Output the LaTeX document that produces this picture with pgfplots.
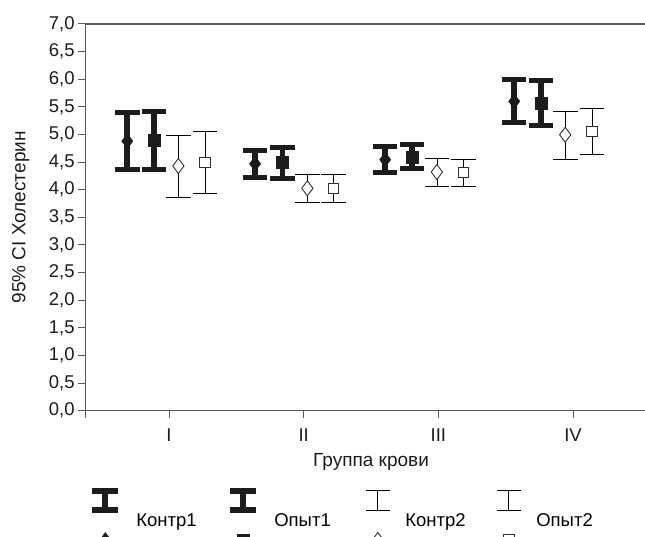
\documentclass[border=0pt]{standalone}
\usepackage{pgfplots}
\pgfplotsset{compat=1.18}
\usepackage{fontspec}
\setmainfont{Liberation Sans}
\usetikzlibrary{calc}
\definecolor{axgray}{HTML}{595959}
\definecolor{ink}{HTML}{1C1C1C}
\definecolor{thin}{HTML}{2E2E2E}

\begin{document}
\begin{tikzpicture}
\begin{axis}[
    name=ax,
    scale only axis, width=570.7pt, height=386.7pt,
    xmin=0.381, xmax=4.619, ymin=0, ymax=7,
    axis x line*=bottom, axis y line*=left,
    axis line style={axgray, line width=1.2pt},
    tick style={axgray, line width=1pt},
    tick align=outside, major tick length=7.5pt,
    xtick={1,2,3,4}, xticklabels={I,II,III,IV},
    extra x ticks={0.381}, extra x tick labels={},
    ytick={0,0.5,1,1.5,2,2.5,3,3.5,4,4.5,5,5.5,6,6.5,7},
    y tick label style={/pgf/number format/.cd, fixed, fixed zerofill, precision=1, use comma, assume math mode=true},
    ticklabel style={font=\fontsize{18.5}{21}\selectfont, text=ink},
    x tick label style={yshift=-7pt},
    xlabel={Группа крови}, ylabel={95\% CI Холестерин},
    label style={font=\fontsize{19}{22}\selectfont, text=ink},
    ylabel style={at={(axis description cs:-0.114,0.5)}, anchor=center},
    xlabel style={at={(axis description cs:0.5,-0.133)}, anchor=center},
    clip=false,
    legend columns=4,
    legend style={at={(0.006,-0.2007)}, anchor=north west, draw=none, fill=none,
        inner sep=0pt, font=\fontsize{18.5}{21}\selectfont,
        nodes={inner sep=0pt},
        /tikz/every odd column/.append style={column sep=15pt},
        /tikz/every even column/.append style={text width=91pt}},
  ]
  % Контр1
  \addplot[only marks, mark=diamond*, mark size=7.5pt, mark options={fill=ink, draw=ink},
    legend image code/.code={
      \draw[ink, line width=6pt] (13pt,10.5pt) -- (13pt,29.5pt);
      \draw[ink, line width=6pt] (0pt,29.5pt) -- (26pt,29.5pt);
      \draw[ink, line width=6pt] (0pt,10.5pt) -- (26pt,10.5pt);
      \draw plot[only marks, mark=diamond*, mark size=7.5pt, mark options={fill=ink, draw=ink}] coordinates {(13pt,-19pt)};},
    error bars/.cd, y dir=both, y explicit,
    error bar style={line width=5.7pt, ink},
    error mark options={rotate=90, mark size=12.2pt, line width=5pt, ink}]
    coordinates {(0.690,4.88) +- (0,0.51) (1.639,4.47) +- (0,0.245) (2.605,4.545) +- (0,0.235) (3.563,5.60) +- (0,0.39)};
  \addlegendentry{Контр1}
  % Опыт1
  \addplot[only marks, mark=square*, mark size=6pt, mark options={fill=ink, draw=ink},
    legend image code/.code={
      \draw[ink, line width=6pt] (13pt,10.5pt) -- (13pt,29.5pt);
      \draw[ink, line width=6pt] (0pt,29.5pt) -- (26pt,29.5pt);
      \draw[ink, line width=6pt] (0pt,10.5pt) -- (26pt,10.5pt);
      \draw plot[only marks, mark=square*, mark size=6pt, mark options={fill=ink, draw=ink}] coordinates {(13pt,-19pt)};},
    error bars/.cd, y dir=both, y explicit,
    error bar style={line width=5.7pt, ink},
    error mark options={rotate=90, mark size=12.2pt, line width=5pt, ink}]
    coordinates {(0.889,4.89) +- (0,0.52) (1.842,4.49) +- (0,0.28) (2.803,4.595) +- (0,0.215) (3.762,5.57) +- (0,0.40)};
  \addlegendentry{Опыт1}
  % Контр2
  \addplot[only marks, mark=diamond*, mark size=7.5pt, mark options={fill=white, draw=thin, line width=0.9pt},
    legend image code/.code={
      \draw[thin, line width=1pt] (13pt,10pt) -- (13pt,30pt);
      \draw[thin, line width=1pt] (1pt,30pt) -- (25pt,30pt);
      \draw[thin, line width=1pt] (1pt,10pt) -- (25pt,10pt);
      \draw plot[only marks, mark=diamond*, mark size=7.5pt, mark options={fill=white, draw=thin, line width=0.9pt}] coordinates {(13pt,-19pt)};},
    error bars/.cd, y dir=both, y explicit,
    error bar style={line width=1pt, thin},
    error mark options={rotate=90, mark size=12.3pt, line width=1pt, thin}]
    coordinates {(1.069,4.43) +- (0,0.56) (2.027,4.025) +- (0,0.255) (2.989,4.32) +- (0,0.25) (3.942,4.995) +- (0,0.435)};
  \addlegendentry{Контр2}
  % Опыт2
  \addplot[only marks, mark=square*, mark size=5.2pt, mark options={fill=white, draw=thin, line width=0.9pt},
    legend image code/.code={
      \draw[thin, line width=1pt] (13pt,10pt) -- (13pt,30pt);
      \draw[thin, line width=1pt] (1pt,30pt) -- (25pt,30pt);
      \draw[thin, line width=1pt] (1pt,10pt) -- (25pt,10pt);
      \draw plot[only marks, mark=square*, mark size=5.2pt, mark options={fill=white, draw=thin, line width=0.9pt}] coordinates {(13pt,-19pt)};},
    error bars/.cd, y dir=both, y explicit,
    error bar style={line width=1pt, thin},
    error mark options={rotate=90, mark size=12.3pt, line width=1pt, thin}]
    coordinates {(1.267,4.495) +- (0,0.565) (2.221,4.025) +- (0,0.255) (3.186,4.315) +- (0,0.245) (4.140,5.055) +- (0,0.415)};
  \addlegendentry{Опыт2}
  \draw[axgray, line width=1.2pt] (rel axis cs:0,1) -- (rel axis cs:1,1);
\end{axis}
\pgfresetboundingbox
\path[use as bounding box] ($(ax.south west)+(-85.7pt,-126.3pt)$) rectangle ($(ax.north west)+(559.3pt,24pt)$);
\end{tikzpicture}
\end{document}
